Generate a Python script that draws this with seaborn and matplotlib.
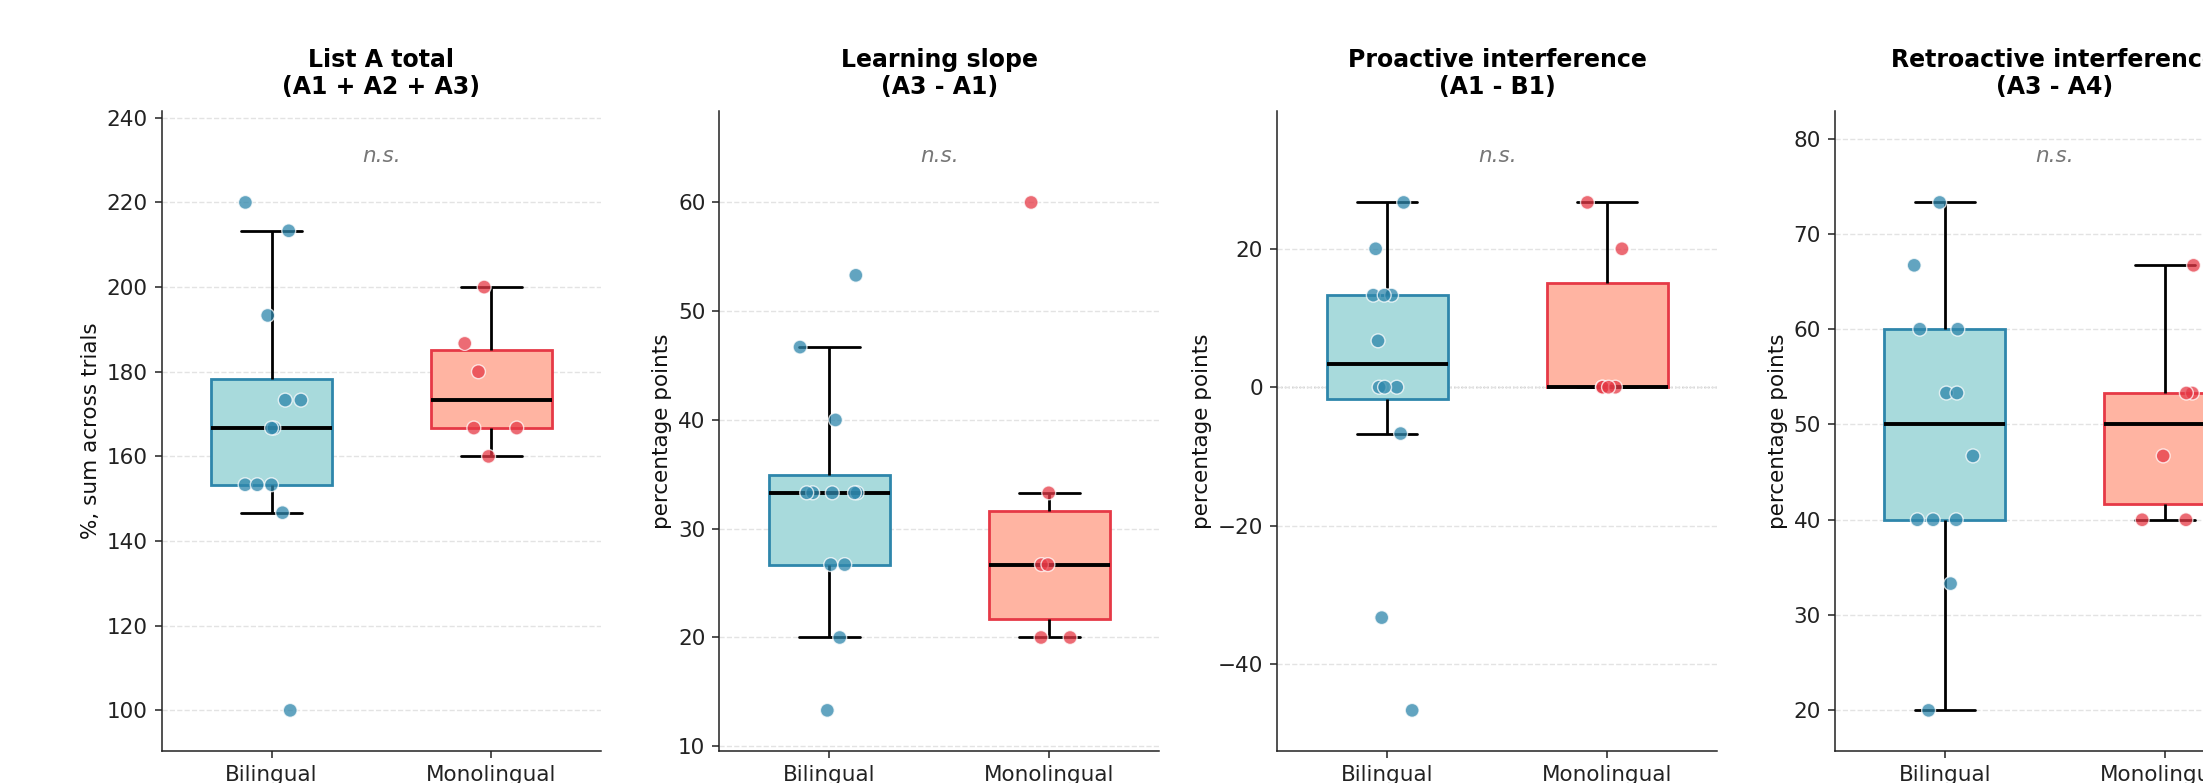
import numpy as np
import pandas as pd
import matplotlib
matplotlib.use("Agg")
import matplotlib.pyplot as plt
import seaborn as sns

# ---------------- data ----------------
groups = ["Bilingual", "Monolingual"]

titles = [
    "List A total\n(A1 + A2 + A3)",
    "Learning slope\n(A3 - A1)",
    "Proactive interference\n(A1 - B1)",
    "Retroactive interference\n(A3 - A4)",
]
ylabels = ["%, sum across trials", "percentage points", "percentage points", "percentage points"]
annotations = ["n.s.", "n.s.", "n.s.", "n.s."]

listA_bil = [220.0, 213.3, 193.3, 173.3, 173.3, 166.7, 166.7, 153.3, 153.3, 153.3, 146.7, 100.0]
listA_mono = [200.0, 186.7, 180.0, 166.7, 166.7, 160.0]

slope_bil = [53.3, 46.7, 40.0, 33.3, 33.3, 33.3, 33.3, 33.3, 26.7, 26.7, 20.0, 13.3]
slope_mono = [60.0, 33.3, 26.7, 26.7, 20.0, 20.0]

pro_bil = [26.7, 20.0, 13.3, 13.3, 13.3, 6.7, 0.0, 0.0, 0.0, -6.7, -33.3, -46.7]
pro_mono = [26.7, 20.0, 0.0, 0.0, 0.0, 0.0]

retro_bil = [73.3, 66.7, 60.0, 60.0, 53.3, 53.3, 46.7, 40.0, 40.0, 40.0, 33.3, 20.0]
retro_mono = [66.7, 53.3, 53.3, 46.7, 40.0, 40.0]

panels = [
    (listA_bil, listA_mono),
    (slope_bil, slope_mono),
    (pro_bil, pro_mono),
    (retro_bil, retro_mono),
]

# ---------------- style ----------------
face_colors = {"Bilingual": "#A8DADC", "Monolingual": "#FFB4A2"}
edge_colors = {"Bilingual": "#2E86AB", "Monolingual": "#E63946"}
point_colors = {"Bilingual": "#2E86AB", "Monolingual": "#E63946"}

sns.set_style("white")
plt.rcParams["font.family"] = ["DejaVu Sans"]
plt.rcParams["axes.edgecolor"] = "#222222"
plt.rcParams["axes.linewidth"] = 1.1
plt.rcParams["text.color"] = "black"
plt.rcParams["axes.labelcolor"] = "#111111"
plt.rcParams["xtick.color"] = "#222222"
plt.rcParams["ytick.color"] = "#222222"
plt.rcParams["axes.titlecolor"] = "black"

W, H = 2203, 783
fig = plt.figure(figsize=(W / 100, H / 100), dpi=100)

left0 = 161.5
step = 557.8
ax_w = 440.0
ax_top = 111.0
ax_bot = 751.0

np.random.seed(7)

for i, ((bil, mono), title, ylab, ann) in enumerate(zip(panels, titles, ylabels, annotations)):
    left = left0 + i * step
    ax = fig.add_axes([left / W, (H - ax_bot) / H, ax_w / W, (ax_bot - ax_top) / H])

    df = pd.DataFrame({
        "group": [groups[0]] * len(bil) + [groups[1]] * len(mono),
        "value": list(bil) + list(mono),
    })

    if i == 2:
        ax.axhline(0, color="#888888", lw=1.0, ls=":", zorder=0.5)

    sns.boxplot(
        data=df, x="group", y="value", hue="group", order=groups, hue_order=groups,
        palette=face_colors, saturation=1, width=0.55, showfliers=False, legend=False, ax=ax,
        linewidth=2.0,
        whiskerprops=dict(color="black", lw=2.0),
        capprops=dict(color="black", lw=2.0),
        medianprops=dict(color="black", lw=2.8),
        boxprops=dict(zorder=2),
    )
    for patch, g in zip(ax.patches, groups):
        patch.set_edgecolor(edge_colors[g])
        patch.set_linewidth(2.0)

    sns.stripplot(
        data=df, x="group", y="value", hue="group", order=groups, hue_order=groups,
        palette=point_colors, jitter=0.14, size=10, alpha=0.75,
        edgecolor="white", linewidth=1.0, legend=False, ax=ax, zorder=3,
    )

    vals = np.array(list(bil) + list(mono))
    span = vals.max() - vals.min()
    ax.set_ylim(vals.min() - 0.08 * span, vals.max() + 0.18 * span)
    ax.set_xlim(-0.5, 1.5)

    ax.yaxis.grid(True, ls="--", color="#e3e3e3", lw=1.0)
    ax.set_axisbelow(True)
    sns.despine(ax=ax)

    ax.set_title(title, fontsize=17, fontweight="bold", pad=12, color="black")
    ax.set_ylabel(ylab, fontsize=15.5)
    ax.set_xlabel("")
    ax.tick_params(axis="both", labelsize=15.5, length=5, width=1.1, pad=5,
                   direction="out", left=True, bottom=True)
    ax.text(0.5, 0.93, ann, transform=ax.transAxes, ha="center", va="center",
            fontsize=15.5, style="italic", color="#777777")

fig.savefig("out.png", dpi=100)
